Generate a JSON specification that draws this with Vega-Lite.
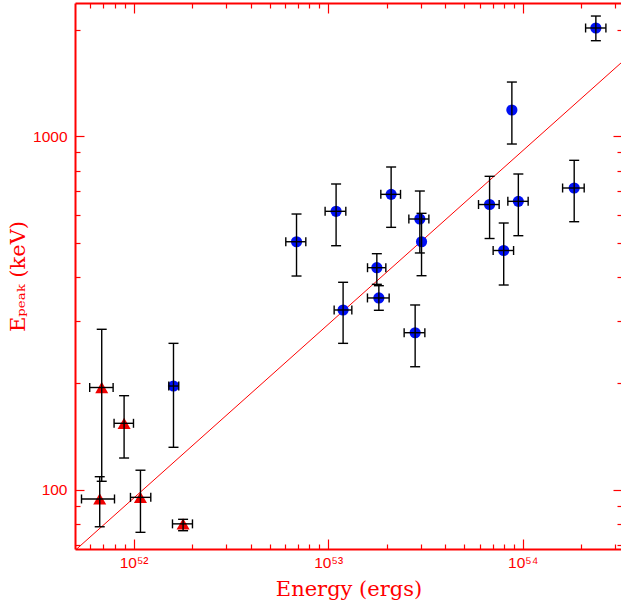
{
  "$schema": "https://vega.github.io/schema/vega-lite/v6.json",
  "width": 547,
  "height": 546,
  "autosize": {"type": "none"},
  "padding": {"left": 75, "top": 3, "right": 0, "bottom": 56},
  "background": "white",
  "config": {
    "view": {"stroke": null},
    "axis": {
      "grid": false,
      "domainColor": "#ff0000",
      "domainWidth": 2,
      "tickColor": "#ff0000",
      "tickWidth": 1.2,
      "labelColor": "#ff0000",
      "labelFont": "Liberation Sans, Arial, Helvetica, sans-serif",
      "labelFontSize": 15.5,
      "labelOverlap": false,
      "labelFlush": false,
      "labelBound": false,
      "titleColor": "#ff0000",
      "titleFont": "DejaVu Serif",
      "titleFontSize": 21,
      "titleFontWeight": "normal"
    }
  },
  "datasets": {
    "pts": [
      {"type": "T", "E": 6.86e51, "Elo": 5.95e51, "Ehi": 7.85e51, "Ep": 194.7, "Eplo": 105.7, "Ephi": 284.5},
      {"type": "T", "E": 8.94e51, "Elo": 7.94e51, "Ehi": 9.99e51, "Ep": 154.2, "Eplo": 123.0, "Ephi": 184.6},
      {"type": "T", "E": 6.70e51, "Elo": 5.40e51, "Ehi": 7.98e51, "Ep": 94.2, "Eplo": 78.6, "Ephi": 108.9},
      {"type": "T", "E": 1.085e52, "Elo": 9.64e51, "Ehi": 1.226e52, "Ep": 95.2, "Eplo": 75.8, "Ephi": 113.6},
      {"type": "T", "E": 1.797e52, "Elo": 1.585e52, "Ehi": 2.008e52, "Ep": 80.1, "Eplo": 76.6, "Ephi": 82.5},
      {"type": "C", "E": 1.604e52, "Elo": 1.517e52, "Ehi": 1.707e52, "Ep": 196.6, "Eplo": 131.9, "Ephi": 259.6},
      {"type": "C", "E": 6.88e52, "Elo": 6.06e52, "Ehi": 7.68e52, "Ep": 503.2, "Eplo": 402.5, "Ephi": 602.8},
      {"type": "C", "E": 1.099e53, "Elo": 9.65e52, "Ehi": 1.233e53, "Ep": 613.5, "Eplo": 490.3, "Ephi": 733.0},
      {"type": "C", "E": 2.108e53, "Elo": 1.866e53, "Ehi": 2.356e53, "Ep": 685.2, "Eplo": 552.7, "Ephi": 818.8},
      {"type": "C", "E": 2.961e53, "Elo": 2.60e53, "Ehi": 3.295e53, "Ep": 583.5, "Eplo": 467.7, "Ephi": 700.2},
      {"type": "C", "E": 3.021e53, "Elo": null, "Ehi": null, "Ep": 503.2, "Eplo": 403.3, "Ephi": 605.5},
      {"type": "C", "E": 1.780e53, "Elo": 1.594e53, "Ehi": 1.98e53, "Ep": 424.9, "Eplo": 381.3, "Ephi": 465.5},
      {"type": "C", "E": 1.823e53, "Elo": 1.593e53, "Ehi": 2.059e53, "Ep": 348.9, "Eplo": 322.0, "Ephi": 377.9},
      {"type": "C", "E": 1.194e53, "Elo": 1.074e53, "Ehi": 1.324e53, "Ep": 322.6, "Eplo": 259.6, "Ephi": 386.4},
      {"type": "C", "E": 2.801e53, "Elo": 2.459e53, "Ehi": 3.142e53, "Ep": 278.2, "Eplo": 222.9, "Ephi": 333.3},
      {"type": "C", "E": 2.378e54, "Elo": 2.106e54, "Ehi": 2.678e54, "Ep": 2025, "Eplo": 1864, "Ephi": 2189},
      {"type": "C", "E": 8.80e53, "Elo": null, "Ehi": null, "Ep": 1187, "Eplo": 951, "Ephi": 1424},
      {"type": "C", "E": 6.76e53, "Elo": 5.93e53, "Ehi": 7.57e53, "Ep": 641.2, "Eplo": 513.9, "Ephi": 770.6},
      {"type": "C", "E": 9.50e53, "Elo": 8.39e53, "Ehi": 1.067e54, "Ep": 654.7, "Eplo": 523.4, "Ephi": 782.3},
      {"type": "C", "E": 1.840e54, "Elo": 1.604e54, "Ehi": 2.071e54, "Ep": 714.1, "Eplo": 573.3, "Ephi": 855.2},
      {"type": "C", "E": 7.99e53, "Elo": 7.05e53, "Ehi": 8.98e53, "Ep": 475.3, "Eplo": 379.6, "Ephi": 568.5}
    ],
    "fit": [
      {"E": 5e51, "Ep": 67.35},
      {"E": 3.24e54, "Ep": 1622}
    ]
  },
  "layer": [
    {
      "data": {"name": "fit"},
      "mark": {"type": "line", "color": "#ff0000", "strokeWidth": 1, "clip": true},
      "encoding": {
        "x": {"field": "E", "type": "quantitative",
          "scale": {"type": "log", "domain": [5e51, 3.24e54], "nice": false},
          "axis": {"orient": "top", "title": null, "labels": false,
            "values": [6e51, 7e51, 8e51, 9e51, 1e52, 2e52, 3e52, 4e52, 5e52, 6e52, 7e52, 8e52, 9e52, 1e53, 2e53, 3e53, 4e53, 5e53, 6e53, 7e53, 8e53, 9e53, 1e54, 2e54, 3e54],
            "tickSize": {"condition": {"test": "datum.value == 1e52 || datum.value == 1e53 || datum.value == 1e54", "value": -10}, "value": -5}}},
        "y": {"field": "Ep", "type": "quantitative",
          "scale": {"type": "log", "domain": [68, 2383], "nice": false},
          "axis": {"orient": "right", "title": null, "labels": false,
            "values": [70, 80, 90, 100, 200, 300, 400, 500, 600, 700, 800, 900, 1000, 2000],
            "tickSize": {"condition": {"test": "datum.value == 100 || datum.value == 1000", "value": -9}, "value": -5}}}
      }
    },
    {
      "data": {"name": "pts"},
      "mark": {"type": "point", "filled": true, "opacity": 1, "strokeWidth": 0},
      "encoding": {
        "x": {"field": "E", "type": "quantitative",
          "scale": {"type": "log", "domain": [5e51, 3.24e54], "nice": false},
          "axis": {"orient": "bottom", "title": "Energy (ergs)", "titlePadding": 3, "labelPadding": 16,
            "values": [6e51, 7e51, 8e51, 9e51, 1e52, 2e52, 3e52, 4e52, 5e52, 6e52, 7e52, 8e52, 9e52, 1e53, 2e53, 3e53, 4e53, 5e53, 6e53, 7e53, 8e53, 9e53, 1e54, 2e54, 3e54],
            "labelExpr": "datum.value == 1e52 ? '10⁵²' : datum.value == 1e53 ? '10⁵³' : datum.value == 1e54 ? '10⁵⁴' : ''",
            "tickSize": {"condition": {"test": "datum.value == 1e52 || datum.value == 1e53 || datum.value == 1e54", "value": -10}, "value": -5}}},
        "y": {"field": "Ep", "type": "quantitative",
          "scale": {"type": "log", "domain": [68, 2383], "nice": false},
          "axis": {"orient": "left", "title": "Eₚₑₐₖ (keV)", "titlePadding": 4, "labelPadding": 17,
            "values": [70, 80, 90, 100, 200, 300, 400, 500, 600, 700, 800, 900, 1000, 2000],
            "labelExpr": "datum.value == 100 ? '100' : datum.value == 1000 ? '1000' : ''",
            "tickSize": {"condition": {"test": "datum.value == 100 || datum.value == 1000", "value": -9}, "value": -5}}},
        "shape": {"field": "type", "type": "nominal", "scale": {"domain": ["C", "T"], "range": ["circle", "triangle-up"]}, "legend": null},
        "color": {"field": "type", "type": "nominal", "scale": {"domain": ["C", "T"], "range": ["#0010f4", "#ee0000"]}, "legend": null},
        "size": {"field": "type", "type": "nominal", "scale": {"domain": ["C", "T"], "range": [125, 170]}, "legend": null}
      }
    },
    {
      "data": {"name": "pts"},
      "mark": {"type": "rule", "color": "#000000", "strokeWidth": 1.4},
      "encoding": {
        "x": {"field": "E", "type": "quantitative", "scale": {"type": "log", "domain": [5e51, 3.24e54], "nice": false}, "axis": null},
        "y": {"field": "Eplo", "type": "quantitative", "scale": {"type": "log", "domain": [68, 2383], "nice": false}, "axis": null},
        "y2": {"field": "Ephi"}
      }
    },
    {
      "data": {"name": "pts"},
      "transform": [{"filter": "datum.Elo != null"}],
      "mark": {"type": "rule", "color": "#000000", "strokeWidth": 1.4},
      "encoding": {
        "x": {"field": "Elo", "type": "quantitative", "scale": {"type": "log", "domain": [5e51, 3.24e54], "nice": false}, "axis": null},
        "x2": {"field": "Ehi"},
        "y": {"field": "Ep", "type": "quantitative", "scale": {"type": "log", "domain": [68, 2383], "nice": false}, "axis": null}
      }
    },
    {
      "data": {"name": "pts"},
      "mark": {"type": "tick", "orient": "horizontal", "color": "#000000", "opacity": 1, "size": 10, "thickness": 1.4},
      "encoding": {
        "x": {"field": "E", "type": "quantitative", "scale": {"type": "log", "domain": [5e51, 3.24e54], "nice": false}, "axis": null},
        "y": {"field": "Eplo", "type": "quantitative", "scale": {"type": "log", "domain": [68, 2383], "nice": false}, "axis": null}
      }
    },
    {
      "data": {"name": "pts"},
      "mark": {"type": "tick", "orient": "horizontal", "color": "#000000", "opacity": 1, "size": 10, "thickness": 1.4},
      "encoding": {
        "x": {"field": "E", "type": "quantitative", "scale": {"type": "log", "domain": [5e51, 3.24e54], "nice": false}, "axis": null},
        "y": {"field": "Ephi", "type": "quantitative", "scale": {"type": "log", "domain": [68, 2383], "nice": false}, "axis": null}
      }
    },
    {
      "data": {"name": "pts"},
      "transform": [{"filter": "datum.Elo != null"}],
      "mark": {"type": "tick", "orient": "vertical", "color": "#000000", "opacity": 1, "size": 9, "thickness": 1.4},
      "encoding": {
        "x": {"field": "Elo", "type": "quantitative", "scale": {"type": "log", "domain": [5e51, 3.24e54], "nice": false}, "axis": null},
        "y": {"field": "Ep", "type": "quantitative", "scale": {"type": "log", "domain": [68, 2383], "nice": false}, "axis": null}
      }
    },
    {
      "data": {"name": "pts"},
      "transform": [{"filter": "datum.Elo != null"}],
      "mark": {"type": "tick", "orient": "vertical", "color": "#000000", "opacity": 1, "size": 9, "thickness": 1.4},
      "encoding": {
        "x": {"field": "Ehi", "type": "quantitative", "scale": {"type": "log", "domain": [5e51, 3.24e54], "nice": false}, "axis": null},
        "y": {"field": "Ep", "type": "quantitative", "scale": {"type": "log", "domain": [68, 2383], "nice": false}, "axis": null}
      }
    }
  ],
  "resolve": {"axis": {"x": "independent", "y": "independent"}}
}
